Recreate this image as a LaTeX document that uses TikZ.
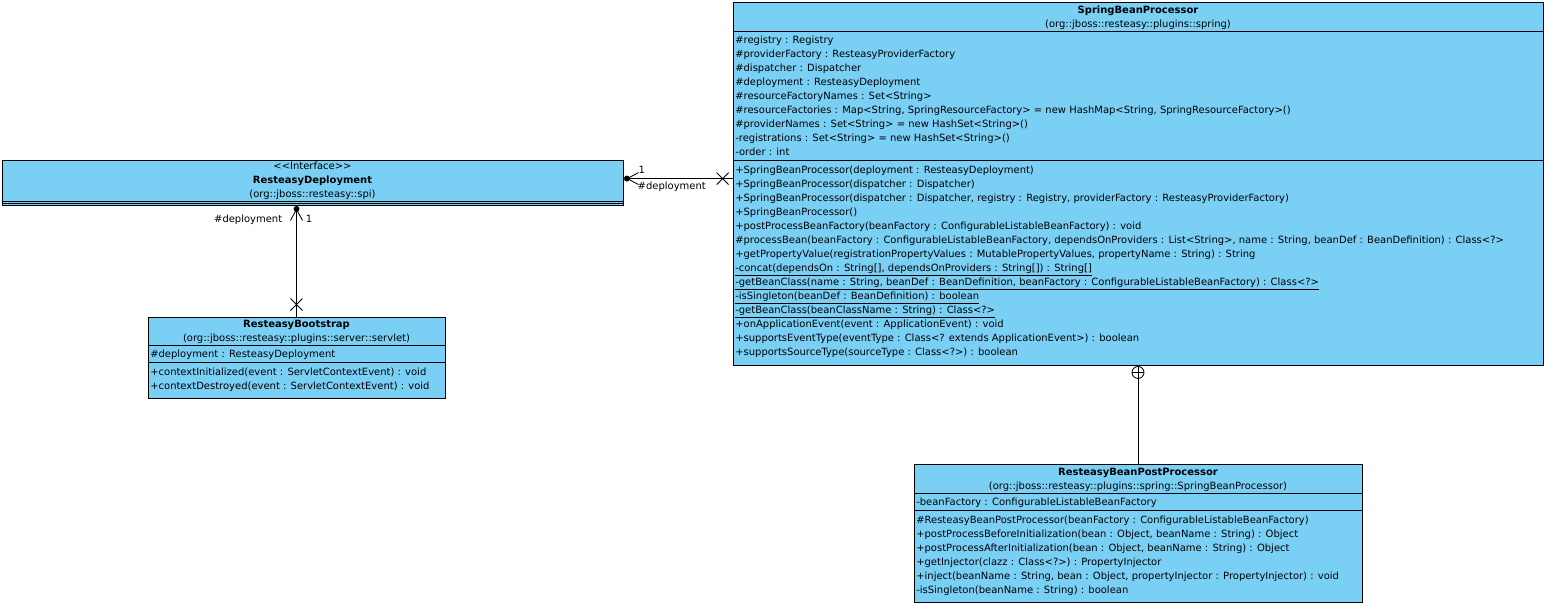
\documentclass[tikz,border=0pt]{standalone}
\usepackage{fontspec}
\setmainfont{DejaVu Sans}
\usepackage{tikz}
\usetikzlibrary{fit,calc}
\definecolor{umlblue}{HTML}{7ACFF5}
\newcommand\umlfont{\fontsize{7.1}{8}\selectfont}

\begin{document}
\begin{tikzpicture}[x=0.025cm, y=-0.025cm,
    classbox/.style={draw=black, fill=umlblue, inner sep=0pt, line width=0.6pt},
    member/.style={anchor=base west, inner sep=0pt, font=\umlfont},
    head/.style={anchor=base, inner sep=0pt, font=\umlfont},
    link/.style={draw=black, line width=0.6pt}]
  \useasboundingbox (0,0) rectangle (1547,606);

  % class boxes
  \node[classbox, fit={(2,160) (623,205)}] (rd) {};
  \node[classbox, fit={(148,317) (445,398)}] (rb) {};
  \node[classbox, fit={(733,2) (1543,365)}] (sbp) {};
  \node[classbox, fit={(914,464) (1362,602)}] (rbpp) {};

  % compartments
  \foreach \b/\y in {rd/201, rd/203, rb/345, rb/362, sbp/31, sbp/160, rbpp/493, rbpp/510}
    \draw[line width=0.6pt] (\b.west |- 0,\y) -- (\b.east |- 0,\y);

  % ResteasyDeployment
  \node[head] (rdst) at (312.5,169.5) {<{}<Interface>{}>};
  \node[head, font=\umlfont\bfseries] (rdname) at (312.5,183.5) {ResteasyDeployment};
  \node[head] (rdpkg) at (312.5,197) {(org::jboss::resteasy::spi)};

  % ResteasyBootstrap
  \node[head, font=\umlfont\bfseries] (rbname) at (296.5,327) {ResteasyBootstrap};
  \node[head] (rbpkg) at (296.5,341) {(org::jboss::resteasy::plugins::server::servlet)};
  \node[member] (rba0) at (150,357) {\#deployment : ResteasyDeployment};
  \foreach[count=\i from 0] \m in {%
      {+contextInitialized(event : ServletContextEvent) : void},
      {+contextDestroyed(event : ServletContextEvent) : void}} {
    \pgfmathsetmacro\yb{375 + \i * 14}
    \node[member] (rbm\i) at (150,\yb) {\m};
  }

  % SpringBeanProcessor
  \node[head, font=\umlfont\bfseries] (sbpname) at (1138,13) {SpringBeanProcessor};
  \node[head] (sbppkg) at (1138,27) {(org::jboss::resteasy::plugins::spring)};
  \foreach[count=\i from 0] \m in {%
      {\#registry : Registry},
      {\#providerFactory : ResteasyProviderFactory},
      {\#dispatcher : Dispatcher},
      {\#deployment : ResteasyDeployment},
      {\#resourceFactoryNames : Set<String>},
      {\#resourceFactories : Map<String, SpringResourceFactory> = new HashMap<String, SpringResourceFactory>()},
      {\#providerNames : Set<String> = new HashSet<String>()},
      {-registrations : Set<String> = new HashSet<String>()},
      {-order : int}} {
    \pgfmathsetmacro\yb{43 + \i * 14}
    \node[member] (sbpa\i) at (735,\yb) {\m};
  }
  \foreach[count=\i from 0] \m in {%
      {+SpringBeanProcessor(deployment : ResteasyDeployment)},
      {+SpringBeanProcessor(dispatcher : Dispatcher)},
      {+SpringBeanProcessor(dispatcher : Dispatcher, registry : Registry, providerFactory : ResteasyProviderFactory)},
      {+SpringBeanProcessor()},
      {+postProcessBeanFactory(beanFactory : ConfigurableListableBeanFactory) : void},
      {\#processBean(beanFactory : ConfigurableListableBeanFactory, dependsOnProviders : List<String>, name : String, beanDef : BeanDefinition) : Class<?>},
      {+getPropertyValue(registrationPropertyValues : MutablePropertyValues, propertyName : String) : String},
      {\underline{-concat(dependsOn : String[], dependsOnProviders : String[]) : String[]}},
      {\underline{-getBeanClass(name : String, beanDef : BeanDefinition, beanFactory : ConfigurableListableBeanFactory) : Class<?>}},
      {\underline{-isSingleton(beanDef : BeanDefinition) : boolean}},
      {\underline{-getBeanClass(beanClassName : String) : Class<?>}},
      {+onApplicationEvent(event : ApplicationEvent) : void},
      {+supportsEventType(eventType : Class<? extends ApplicationEvent>) : boolean},
      {+supportsSourceType(sourceType : Class<?>) : boolean}} {
    \pgfmathsetmacro\yb{173 + \i * 14}
    \node[member] (sbpm\i) at (735,\yb) {\m};
  }

  % ResteasyBeanPostProcessor
  \node[head, font=\umlfont\bfseries] (rbppname) at (1138,475) {ResteasyBeanPostProcessor};
  \node[head] (rbpppkg) at (1138,489) {(org::jboss::resteasy::plugins::spring::SpringBeanProcessor)};
  \node[member] (rbppa0) at (916,505) {-beanFactory : ConfigurableListableBeanFactory};
  \foreach[count=\i from 0] \m in {%
      {\#ResteasyBeanPostProcessor(beanFactory : ConfigurableListableBeanFactory)},
      {+postProcessBeforeInitialization(bean : Object, beanName : String) : Object},
      {+postProcessAfterInitialization(bean : Object, beanName : String) : Object},
      {+getInjector(clazz : Class<?>) : PropertyInjector},
      {+inject(beanName : String, bean : Object, propertyInjector : PropertyInjector) : void},
      {-isSingleton(beanName : String) : boolean}} {
    \pgfmathsetmacro\yb{523 + \i * 14}
    \node[member] (rbppm\i) at (916,\yb) {\m};
  }

  % association ResteasyDeployment -- SpringBeanProcessor
  \coordinate (rdr) at ($(rd.north east)+(0,19)$);
  \coordinate (sbpl) at (rdr -| sbp.west);
  \draw[link] (rdr) -- (sbpl);
  \fill ($(rdr)+(3.5,0)$) circle (3);
  \draw[link] ($(rdr)+(15,-6)$) -- ($(rdr)+(4,0)$) -- ($(rdr)+(15,6)$);
  \node[member] (mult1) at ($(rdr)+(15,-5)$) {1};
  \node[member] (role1) at ($(rdr)+(14,11)$) {\#deployment};
  \draw[link] ($(sbpl)+(-16,-6)$) -- ($(sbpl)+(-4,6)$);
  \draw[link] ($(sbpl)+(-16,6)$) -- ($(sbpl)+(-4,-6)$);

  % association ResteasyBootstrap -- ResteasyDeployment
  \coordinate (rbt) at (rb.north);
  \coordinate (rdb) at (rb.north |- rd.south);
  \draw[link] (rbt) -- (rdb);
  \fill ($(rdb)+(0,3.5)$) circle (3);
  \draw[link] ($(rdb)+(-6,15)$) -- ($(rdb)+(0,4)$) -- ($(rdb)+(6,15)$);
  \node[member, anchor=base east] (role2) at ($(rdb)+(-14,17)$) {\#deployment};
  \node[member] (mult2) at ($(rdb)+(9,17)$) {1};
  \draw[link] ($(rbt)+(-6,-18)$) -- ($(rbt)+(6,-6)$);
  \draw[link] ($(rbt)+(-6,-6)$) -- ($(rbt)+(6,-18)$);

  % nesting SpringBeanProcessor -- ResteasyBeanPostProcessor
  \coordinate (rbppt) at (rbpp.north);
  \coordinate (sbpb) at (rbpp.north |- sbp.south);
  \draw[link] ($(sbpb)+(0,7)$) circle (6);
  \draw[link] ($(sbpb)+(-6,7)$) -- ($(sbpb)+(6,7)$);
  \draw[link] (sbpb) -- (rbppt);
\end{tikzpicture}
\end{document}
